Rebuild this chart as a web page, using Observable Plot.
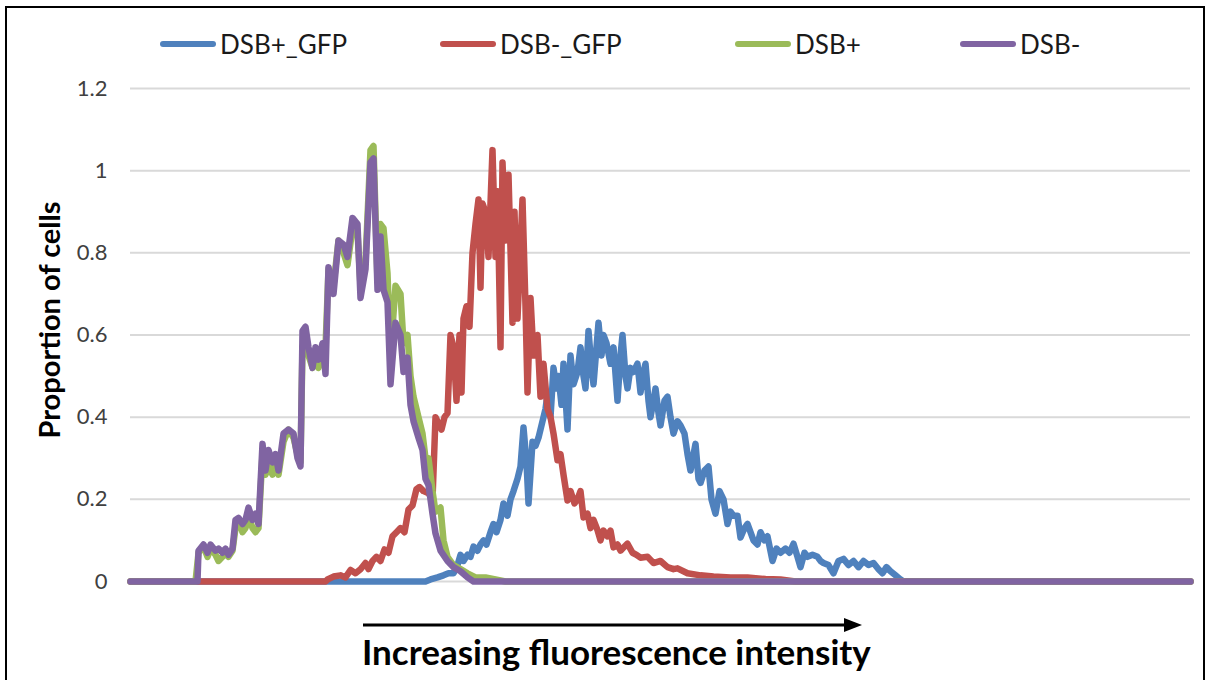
<!DOCTYPE html>
<html>
<head>
<meta charset="utf-8">
<script src="https://cdn.jsdelivr.net/npm/d3@7"></script>
<script src="https://cdn.jsdelivr.net/npm/@observablehq/plot@0.6"></script>
<style>
  html, body { margin: 0; padding: 0; background: #fff; }
  #wrap { position: relative; width: 1209px; height: 680px; overflow: hidden; background: #fff; font-family: Lato, "Open Sans", sans-serif; }
  #frame { position: absolute; left: 5px; top: 6px; right: 4px; bottom: -20px; border: 2px solid #000; }
  #chart { position: absolute; left: 0; top: 0; }
  .leg { position: absolute; top: 28px; display: flex; align-items: center; font-size: 26px; color: #1a1a1a; }
  .leg .sw { display: inline-block; width: 56px; height: 6px; border-radius: 3px; margin-right: 4px; }
  #ylab { position: absolute; left: 48px; top: 320px; transform: translate(-50%, -50%) rotate(-90deg); font-weight: bold; font-size: 29px; white-space: nowrap; color: #000; }
  #arrow { position: absolute; left: 360px; top: 612px; }
  #xlab { position: absolute; left: 362px; top: 630px; font-weight: bold; font-size: 35px; color: #000; white-space: nowrap; }
</style>
</head>
<body>
<div id="wrap">
  <div id="frame"></div>
  <div id="chart"></div>
  <div id="legend"></div>
  <div id="ylab">Proportion of cells</div>
  <svg id="arrow" width="510" height="26"><line x1="3" y1="13" x2="488" y2="13" stroke="#000" stroke-width="3"/><polygon points="484,6 502,13 484,20" fill="#000"/></svg>
  <div id="xlab">Increasing fluorescence intensity</div>
</div>
<script>
// ---- data (bin = fluorescence channel, value = proportion of cells) ----
const seriesNames = ["DSB+_GFP", "DSB-_GFP", "DSB+", "DSB-"];
const seriesColors = ["#4F81BD", "#C0504D", "#9BBB59", "#8064A2"];
const yTicks = [0, 0.2, 0.4, 0.6, 0.8, 1, 1.2];

const dsbPlusGfpBin = [0,295,300,307,313,318,323,327,330,333,337,340,343,347,350,353,356,360,363,366,370,373,377,380,383,387,390,393,396,398,402,405,408,412,415,417,420,423,426,428,431,433,435,437,440,443,447,450,453,455,458,461,463,466,468,471,473,476,480,483,487,490,492,495,497,500,503,507,510,513,515,518,520,523,525,528,530,534,537,540,543,547,550,554,557,560,565,568,570,574,578,581,585,589,593,597,600,603,607,610,614,617,620,623,627,630,634,637,642,646,650,655,659,663,667,670,674,677,682,687,690,693,698,703,708,713,718,723,728,733,738,743,748,752,756,760,765,770,773,1060];
const dsbPlusGfpVal = [0,0,0.005,0.01,0.015,0.02,0.02,0.04,0.065,0.05,0.065,0.06,0.085,0.075,0.09,0.10,0.09,0.12,0.14,0.12,0.15,0.19,0.16,0.20,0.22,0.25,0.28,0.375,0.29,0.19,0.34,0.33,0.35,0.39,0.42,0.455,0.40,0.52,0.47,0.50,0.43,0.53,0.45,0.37,0.55,0.48,0.51,0.57,0.50,0.47,0.61,0.52,0.48,0.57,0.63,0.55,0.60,0.58,0.53,0.57,0.44,0.55,0.60,0.50,0.47,0.52,0.51,0.53,0.46,0.51,0.53,0.44,0.40,0.44,0.47,0.41,0.38,0.44,0.45,0.40,0.36,0.39,0.38,0.36,0.31,0.27,0.335,0.25,0.24,0.27,0.28,0.20,0.165,0.22,0.20,0.14,0.17,0.16,0.16,0.107,0.13,0.14,0.12,0.10,0.09,0.12,0.10,0.11,0.05,0.08,0.07,0.08,0.07,0.092,0.06,0.035,0.07,0.06,0.065,0.06,0.05,0.045,0.04,0.02,0.05,0.055,0.04,0.05,0.035,0.05,0.04,0.045,0.03,0.02,0.035,0.025,0.015,0.005,0,0];

const dsbMinusGfpBin = [0,195,197,203,210,215,220,225,230,235,238,242,246,250,254,258,262,266,270,274,278,282,286,289,293,298,302,305,308,311,314,317,320,323,326,329,331,333,336,339,342,345,348,350,352,355,358,362,365,367,370,372,375,378,382,384,387,392,395,397,400,403,407,410,413,417,420,423,427,430,433,437,440,444,447,450,453,457,460,463,467,470,473,477,480,483,487,490,494,497,502,506,510,517,523,530,537,543,547,557,570,583,600,617,635,650,665,1060];
const dsbMinusGfpVal = [0,0,0.005,0.012,0.015,0.01,0.028,0.02,0.03,0.045,0.03,0.05,0.06,0.05,0.078,0.07,0.11,0.12,0.13,0.12,0.175,0.185,0.225,0.23,0.22,0.215,0.20,0.40,0.385,0.37,0.40,0.41,0.60,0.57,0.44,0.60,0.46,0.64,0.67,0.62,0.80,0.87,0.93,0.715,0.92,0.90,0.79,1.05,0.79,0.95,0.57,1.02,0.83,0.99,0.63,0.90,0.64,0.93,0.67,0.46,0.69,0.55,0.60,0.45,0.53,0.42,0.40,0.36,0.295,0.31,0.26,0.197,0.22,0.19,0.20,0.22,0.156,0.165,0.13,0.15,0.125,0.10,0.124,0.11,0.124,0.083,0.09,0.075,0.085,0.092,0.07,0.065,0.058,0.06,0.045,0.05,0.035,0.03,0.032,0.02,0.015,0.012,0.01,0.01,0.006,0.005,0,0];

const dsbPlusBin = [0,65,68,73,77,80,85,88,92,95,98,102,105,108,112,115,118,122,125,128,132,135,138,142,145,148,153,158,163,167,170,172,175,178,182,185,188,192,195,198,203,208,213,217,222,227,230,235,240,243,247,250,253,257,260,265,270,273,277,280,283,288,292,295,298,302,305,310,313,317,323,330,337,345,355,365,375,1060];
const dsbPlusVal = [0,0,0.07,0.085,0.06,0.08,0.065,0.05,0.06,0.07,0.06,0.075,0.13,0.15,0.12,0.13,0.16,0.13,0.12,0.13,0.31,0.26,0.28,0.26,0.29,0.26,0.34,0.37,0.35,0.31,0.29,0.57,0.60,0.55,0.52,0.54,0.52,0.55,0.57,0.76,0.72,0.83,0.80,0.77,0.86,0.85,0.72,0.78,1.05,1.06,0.73,0.87,0.86,0.75,0.55,0.72,0.70,0.58,0.60,0.50,0.45,0.40,0.36,0.30,0.30,0.22,0.17,0.18,0.10,0.06,0.04,0.03,0.02,0.01,0.01,0.005,0,0];

const dsbMinusBin = [0,67,68,73,77,80,85,88,92,95,98,102,105,108,112,115,118,122,125,128,132,135,138,142,145,148,153,158,163,167,170,172,175,178,182,185,188,192,195,198,203,208,213,217,222,227,230,235,240,243,247,250,253,257,260,265,270,273,277,280,283,288,292,295,298,302,305,310,317,323,330,337,343,1060];
const dsbMinusVal = [0,0,0.075,0.09,0.07,0.09,0.075,0.08,0.07,0.08,0.065,0.08,0.15,0.155,0.14,0.15,0.18,0.15,0.165,0.14,0.335,0.27,0.32,0.29,0.31,0.27,0.36,0.37,0.36,0.30,0.28,0.61,0.62,0.57,0.52,0.57,0.54,0.58,0.505,0.765,0.70,0.83,0.82,0.79,0.885,0.87,0.69,0.76,1.02,1.03,0.71,0.84,0.71,0.68,0.48,0.63,0.60,0.51,0.545,0.43,0.39,0.35,0.32,0.25,0.235,0.165,0.117,0.075,0.05,0.035,0.025,0.01,0,0];

const binSets = [dsbPlusGfpBin, dsbMinusGfpBin, dsbPlusBin, dsbMinusBin];
const valSets = [dsbPlusGfpVal, dsbMinusGfpVal, dsbPlusVal, dsbMinusVal];

const series = seriesNames.map((name, i) => binSets[i].map((b, j) => ({series: name, bin: b, value: valSets[i][j]})));

const plot = Plot.plot({
  width: 1209,
  height: 600,
  marginLeft: 130,
  marginRight: 19,
  marginTop: 88,
  marginBottom: 19,
  style: {fontFamily: "Lato, 'Open Sans', sans-serif", fontSize: "22px", color: "#404040", background: "transparent", overflow: "visible"},
  x: {domain: [0, 1060], axis: null},
  y: {domain: [0, 1.2]},
  marks: [
    Plot.gridY(yTicks, {stroke: "#d9d9d9", strokeOpacity: 1, strokeWidth: 2}),
    Plot.axisY(yTicks, {tickSize: 0, tickPadding: 23, label: null, fontSize: 22, tickFormat: d3.format("")}),
    ...series.map((s, i) => Plot.line(s, {x: "bin", y: "value", stroke: seriesColors[i], strokeWidth: 6.5, strokeLinejoin: "round", strokeLinecap: "round"}))
  ]
});
document.getElementById("chart").appendChild(plot);

// legend
const legendLeft = [160, 440, 735, 960];
const legend = document.getElementById("legend");
seriesNames.forEach((name, i) => {
  const item = document.createElement("div");
  item.className = "leg";
  item.style.left = legendLeft[i] + "px";
  item.innerHTML = `<span class="sw" style="background:${seriesColors[i]}"></span><span>${name}</span>`;
  legend.appendChild(item);
});
</script>
</body>
</html>
